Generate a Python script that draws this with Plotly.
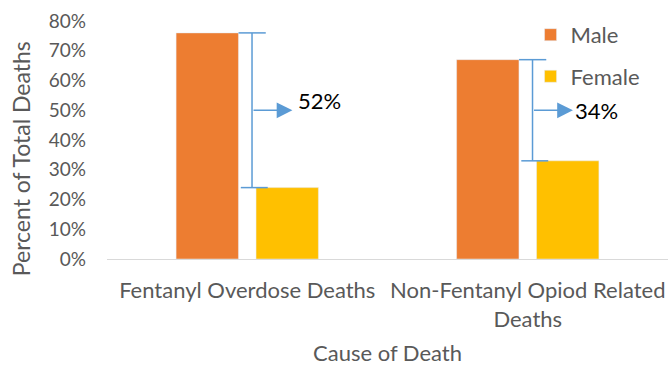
import plotly.graph_objects as go

categories = ["Fentanyl Overdose Deaths", "Non-Fentanyl Opiod Related<br>Deaths"]
male = [76, 67]
female = [24, 33]
y_tickvals = [0, 10, 20, 30, 40, 50, 60, 70, 80]
y_ticktext = ["0%", "10%", "20%", "30%", "40%", "50%", "60%", "70%", "80%"]

FONT = "Lato"
GRAY = "#595959"
BLUE = "#5b9bd5"

fig = go.Figure()
fig.add_trace(go.Bar(x=categories, y=male, name="Male", marker_color="#ed7d31",
                     legendgroup="m"))
fig.add_trace(go.Bar(x=categories, y=female, name="Female", marker_color="#ffc000",
                     legendgroup="f"))

shapes = []
annotations = []
label_yshift = [10, 0]
label_xshift = [0, -4]
for i, (m, f) in enumerate(zip(male, female)):
    xl = i + 0.017
    shapes.append(dict(type="line", xref="x", yref="y", x0=xl, x1=xl, y0=f, y1=m,
                       line=dict(color=BLUE, width=1.5)))
    shapes.append(dict(type="line", xref="x", yref="y", x0=i - 0.031, x1=i + 0.066, y0=m, y1=m,
                       line=dict(color=BLUE, width=1.5)))
    shapes.append(dict(type="line", xref="x", yref="y", x0=i - 0.023, x1=i + 0.073, y0=f, y1=f,
                       line=dict(color=BLUE, width=1.5)))
    mid = (m + f) / 2
    annotations.append(dict(x=i + 0.161, y=mid, xref="x", yref="y", ax=xl, ay=mid,
                            axref="x", ayref="y", text="", showarrow=True,
                            arrowhead=2, arrowsize=2.1, arrowwidth=1.5, arrowcolor=BLUE))
    annotations.append(dict(x=i + 0.175, y=mid, xref="x", yref="y", text=f"{m - f}%",
                            showarrow=False, xanchor="left", yanchor="middle",
                            yshift=label_yshift[i], xshift=label_xshift[i],
                            font=dict(family=FONT, size=22, color="#000000")))

annotations.append(dict(text="Percent of Total Deaths", textangle=-90, xref="paper", yref="paper",
                        x=-0.153, y=0.42, xanchor="center", yanchor="middle", showarrow=False,
                        font=dict(family=FONT, size=23, color=GRAY)))
annotations.append(dict(text="Cause of Death", xref="paper", yref="paper",
                        x=0.5, y=-0.392, xanchor="center", yanchor="middle", showarrow=False,
                        font=dict(family=FONT, size=22, color=GRAY)))

fig.update_layout(
    width=668, height=366,
    margin=dict(l=107, r=0, t=21, b=107),
    paper_bgcolor="white", plot_bgcolor="white",
    barmode="group", bargap=0.43, bargroupgap=0.22,
    font=dict(family=FONT, size=22, color=GRAY),
    showlegend=True,
    legend=dict(x=0.755, y=1.03, xanchor="left", yanchor="top", traceorder="grouped",
                tracegroupgap=10, font=dict(family=FONT, size=22, color=GRAY),
                bgcolor="rgba(0,0,0,0)"),
    shapes=shapes, annotations=annotations,
    xaxis=dict(showline=True, linecolor="#d9d9d9", linewidth=1, showgrid=False,
               ticks="", ticklabelstandoff=12,
               tickfont=dict(family=FONT, size=22, color=GRAY)),
    yaxis=dict(range=[0, 80], tickvals=y_tickvals, ticktext=y_ticktext, showgrid=False,
               zeroline=False, showline=False, ticks="", ticklabelstandoff=20,
               tickfont=dict(family=FONT, size=19, color=GRAY)),
)

fig.write_html("out.html")
